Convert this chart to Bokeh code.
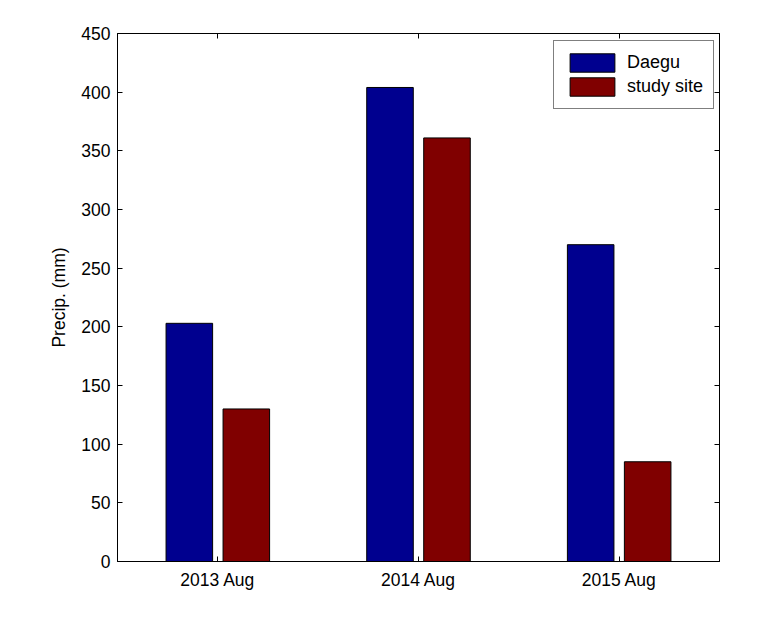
from bokeh.plotting import figure
from bokeh.models import (ColumnDataSource, LinearAxis, FixedTicker, Range1d,
                          Legend, LegendItem)
from bokeh.transform import dodge
from bokeh.embed import file_html
from bokeh.resources import INLINE

categories = ["2013 Aug", "2014 Aug", "2015 Aug"]
daegu = [203, 404, 270]
study_site = [130, 361, 85]
y_ticks = [0, 50, 100, 150, 200, 250, 300, 350, 400, 450]

xpos = list(range(1, len(categories) + 1))
src = ColumnDataSource(dict(x=xpos, daegu=daegu, study=study_site))

FONT = "Liberation Sans"

p = figure(width=778, height=618, output_backend="svg", toolbar_location=None,
           x_range=Range1d(0.5, 3.5), y_range=Range1d(0, 450),
           min_border_left=117, min_border_right=59,
           min_border_top=33, min_border_bottom=57,
           background_fill_color="white", border_fill_color="white")
p.outline_line_color = "black"
p.outline_line_width = 1
p.xgrid.visible = False
p.ygrid.visible = False

r1 = p.vbar(x=dodge("x", -0.142, range=p.x_range), top="daegu", width=0.232,
            source=src, fill_color="#00008F", line_color="black", line_width=1)
r2 = p.vbar(x=dodge("x", 0.142, range=p.x_range), top="study", width=0.232,
            source=src, fill_color="#800000", line_color="black", line_width=1)

def style_axis(ax, labels=True):
    ax.major_tick_in = 5
    ax.major_tick_out = 0
    ax.minor_tick_in = 0
    ax.minor_tick_out = 0
    ax.axis_line_color = "black"
    ax.major_tick_line_color = "black"
    ax.major_label_text_font = FONT
    ax.major_label_text_font_size = "17.5px"
    ax.major_label_text_color = "black" if labels else None
    ax.axis_label_text_font = FONT
    ax.axis_label_text_font_size = "17.5px"
    ax.axis_label_text_font_style = "normal"
    ax.axis_label_text_color = "black"

xa = p.xaxis[0]
xa.ticker = FixedTicker(ticks=xpos)
xa.major_label_overrides = {i: c for i, c in zip(xpos, categories)}
xa.major_label_standoff = 8
style_axis(xa)

ya = p.yaxis[0]
ya.ticker = FixedTicker(ticks=y_ticks)
ya.axis_label = "Precip. (mm)"
ya.major_label_standoff = 7
ya.axis_label_standoff = 9
style_axis(ya)

top_ax = LinearAxis(ticker=FixedTicker(ticks=xpos))
style_axis(top_ax, labels=False)
p.add_layout(top_ax, "above")
right_ax = LinearAxis(ticker=FixedTicker(ticks=y_ticks))
style_axis(right_ax, labels=False)
p.add_layout(right_ax, "right")

legend = Legend(items=[LegendItem(label="Daegu", renderers=[r1]),
                       LegendItem(label="study site", renderers=[r2])],
                location=(436, 452), margin=0, padding=10, spacing=1,
                glyph_width=56, glyph_height=23, label_height=23,
                label_standoff=7, label_text_font=FONT,
                label_text_font_size="18px", label_text_color="black",
                border_line_color="black",
                border_line_width=1, background_fill_alpha=1.0)
p.add_layout(legend, "center")

open("out.html", "w").write(file_html(p, INLINE))
